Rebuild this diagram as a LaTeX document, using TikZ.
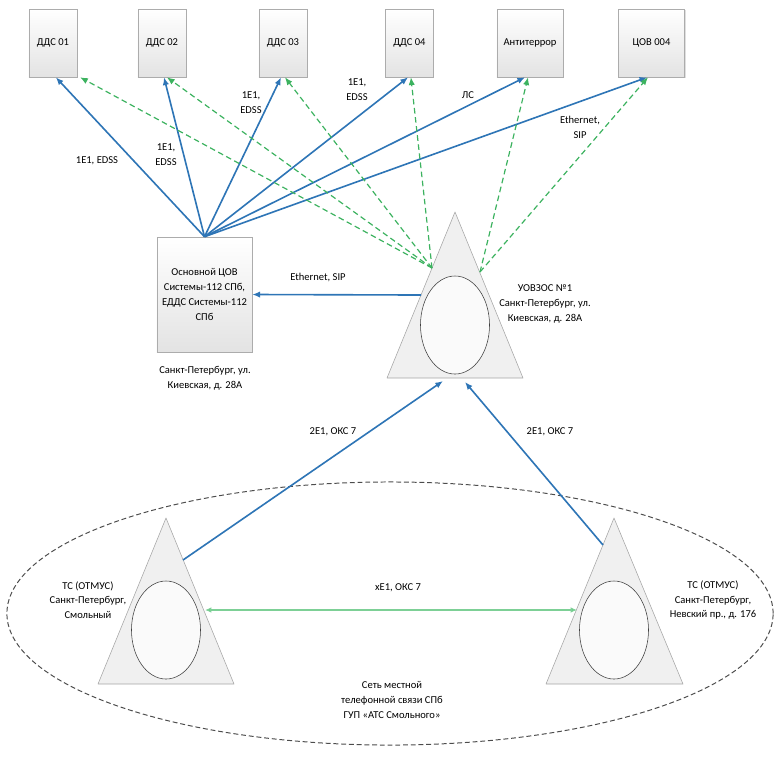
\documentclass[tikz,border=0pt]{standalone}
\usepackage{fontspec}
\setmainfont{Carlito}
\usetikzlibrary{arrows.meta,shapes.geometric,shadows}
\definecolor{lnkblue}{RGB}{46,117,182}
\definecolor{lnkgreen}{RGB}{60,178,95}
\definecolor{lnklight}{RGB}{125,208,150}

\begin{document}
\begin{tikzpicture}[x=0.025cm,y=-0.025cm,>=Latex,
  every node/.style={font=\fontsize{7.5}{10.5}\selectfont},
  unit/.style={draw=gray!65,top color=white,bottom color=gray!22,minimum width=1.2cm,
    minimum height=1.7cm,inner sep=1pt,drop shadow={opacity=0.25,shadow xshift=0.7pt,shadow yshift=-0.7pt}},
  wide/.style={unit,minimum width=1.65cm},
  tri/.style={draw=gray!70,fill=gray!12,line join=round},
  core/.style={ellipse,draw=gray!50!black,fill=gray!4,minimum width=1.725cm,minimum height=2.45cm},
  trunk/.style={->,draw=lnkblue,line width=1.15pt,>={Latex[length=5.5pt,width=4.5pt]}},
  spare/.style={->,draw=lnkgreen,line width=0.85pt,dash pattern=on 4pt off 2.5pt,>={Latex[length=5.5pt,width=4.5pt]}},
  lbl/.style={align=center,inner sep=1pt}]
\useasboundingbox (0,0) rectangle (775,759);

% local network
\node[ellipse,draw=gray!60!black,dash pattern=on 3.5pt off 2pt,line width=0.7pt,
  minimum width=19.15cm,minimum height=6.575cm] (net) at (390,613.5) {};
\node[lbl] (netlbl) at (392,700) {Сеть местной\\телефонной связи СПб\\ГУП «АТС Смольного»};

% top units
\node[unit] (dds1) at (53,43) {ДДС 01};
\node[unit] (dds2) at (162,43) {ДДС 02};
\node[unit] (dds3) at (283,43) {ДДС 03};
\node[unit] (dds4) at (409.5,43) {ДДС 04};
\node[wide] (anti) at (530,43) {Антитеррор};
\node[wide] (cov4) at (651.5,43) {ЦОВ 004};

% main centre
\node[unit,minimum width=2.375cm,minimum height=2.875cm,align=center] (cov) at (204.5,294.5)
  {Основной ЦОВ\\Системы-112 СПб,\\ЕДДС Системы-112\\СПб};
\node[lbl] (covlbl) at (205,378) {Санкт-Петербург, ул.\\Киевская, д. 28А};

% switches
\draw[tri] (455,212) -- (523,378) -- (387,378) -- cycle;
\node[core] (uCore) at (455,325) {};
\node[lbl] (ulbl) at (545,304) {УОВЗОС №1\\Санкт-Петербург, ул.\\Киевская, д. 28А};
\draw[tri] (166,518) -- (234,684) -- (98,684) -- cycle;
\node[core] (sCore) at (166,630) {};
\node[lbl] (slbl) at (88,600) {ТС (ОТМУС)\\Санкт-Петербург,\\Смольный};
\draw[tri] (614,518) -- (683,684) -- (546,684) -- cycle;
\node[core] (nCore) at (614,630) {};
\node[lbl] (nlbl) at (713,600) {ТС (ОТМУС)\\Санкт-Петербург,\\Невский пр., д. 176};

\coordinate (uL) at (432,268);
\coordinate (uR) at (480,272);
\coordinate (uW) at (421,295);
\coordinate (uB1) at (443,381);
\coordinate (uB2) at (465,382);
\coordinate (sE) at (183,560);
\coordinate (sM) at (205,610);
\coordinate (nW) at (603,545);
\coordinate (nM) at (577,610);

% links to units
\draw[trunk] (cov.north) -- ([xshift=2pt]dds1.south);
\draw[trunk] (cov.north) -- ([xshift=1.4pt]dds2.south);
\draw[trunk] (cov.north) -- ([xshift=-1.4pt]dds3.south);
\draw[trunk] (cov.north) -- ([xshift=-1pt]dds4.south);
\draw[trunk] (cov.north) -- ([xshift=-3.5pt]anti.south);
\draw[trunk] (cov.north) -- ([xshift=-3pt]cov4.south);
\draw[spare] (uL) -- ([xshift=2pt]dds1.south east);
\draw[spare] (uL) -- ([xshift=3.5pt]dds2.south);
\draw[spare] (uL) -- ([xshift=1.4pt]dds3.south);
\draw[spare] (uL) -- ([xshift=1pt]dds4.south);
\draw[spare] (uR) -- ([xshift=-1.4pt]anti.south);
\draw[spare] (uR) -- ([xshift=-2.5pt]cov4.south);

\node[lbl] (l1) at (97,161) {1Е1, EDSS};
\node[lbl] (l2) at (166,155) {1Е1,\\EDSS};
\node[lbl] (l3) at (251,103) {1Е1,\\EDSS};
\node[lbl] (l4) at (357,90) {1Е1,\\EDSS};
\node[lbl] (l5) at (468,95) {ЛС};
\node[lbl] (l6) at (580,127) {Ethernet,\\SIP};

% trunks between switches
\draw[trunk] (uW) -- (cov.east);
\node[lbl] (l7) at (318,278) {Ethernet, SIP};
\draw[trunk] (sE) -- (uB1);
\node[lbl] (l8) at (333,432) {2Е1, ОКС 7};
\draw[trunk] (nW) -- (uB2);
\node[lbl] (l9) at (550,432) {2Е1, ОКС 7};
\draw[<->,draw=lnklight,line width=0.9pt,>={Latex[length=4.5pt,width=4pt,fill=lnkgreen]}] (sM) -- (nM);
\node[lbl] (l10) at (398,588) {хЕ1, ОКС 7};
\end{tikzpicture}
\end{document}
